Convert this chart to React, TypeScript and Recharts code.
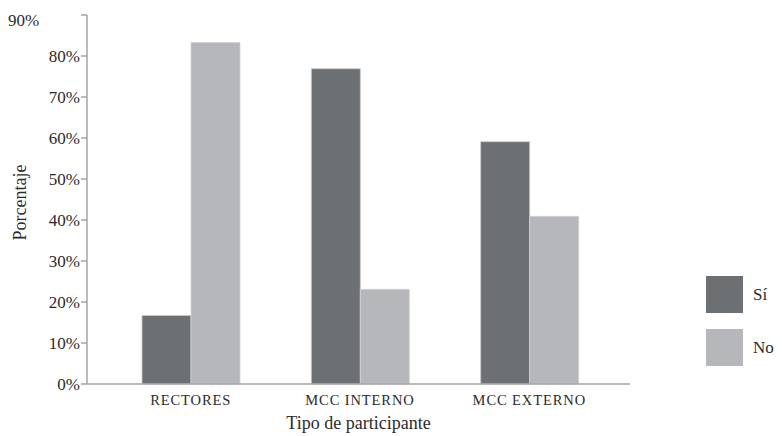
import { Bar, BarChart, Label, Legend, XAxis, YAxis } from "recharts";

const categories = ["RECTORES", "MCC INTERNO", "MCC EXTERNO"];
const siValues = [16.7, 76.9, 59.1];
const noValues = [83.3, 23.1, 40.9];
const seriesNames = ["Sí", "No"];
const yTicks = [0, 10, 20, 30, 40, 50, 60, 70, 80, 90];

const data = categories.map((name, i) => ({
  name,
  si: siValues[i],
  no: noValues[i],
}));

const FONT = "'Liberation Serif', 'Times New Roman', serif";
const INK = "#2b2b2b";
const AXIS = "#a4a5a8";
const SI_COLOR = "#6d7073";
const NO_COLOR = "#b6b7ba";

// top tick label sits flush left in the original, the rest are right-aligned
function YTick({ x, y, payload }: any) {
  if (payload.value === 90) {
    return (
      <text x={8} y={y + 11} fontFamily={FONT} fontSize={17} fill={INK}>
        90%
      </text>
    );
  }
  return (
    <text
      x={x}
      y={y}
      dy={6}
      textAnchor="end"
      fontFamily={FONT}
      fontSize={17}
      fill={INK}
    >
      {payload.value}%
    </text>
  );
}

function XTick({ x, y, payload }: any) {
  return (
    <text
      x={x}
      y={y}
      dy={13}
      textAnchor="middle"
      fontFamily={FONT}
      fontSize={14.5}
      letterSpacing={0.9}
      fill={INK}
    >
      {payload.value}
    </text>
  );
}

function LegendBox({ payload }: any) {
  const items = [...(payload ?? [])].sort(
    (a: any, b: any) => seriesNames.indexOf(a.value) - seriesNames.indexOf(b.value),
  );
  return (
    <div style={{ display: "flex", flexDirection: "column", gap: 16 }}>
      {items.map((p: any) => (
        <div key={p.value} style={{ display: "flex", alignItems: "center" }}>
          <span
            style={{
              width: 37,
              height: 37,
              background: p.color,
              display: "inline-block",
            }}
          />
          <span
            style={{
              marginLeft: 10,
              fontFamily: FONT,
              fontSize: 17,
              color: INK,
            }}
          >
            {p.value}
          </span>
        </div>
      ))}
    </div>
  );
}

export default function App() {
  return (
    <div style={{ position: "absolute", left: 0, top: 0, background: "#fff" }}>
      <BarChart
        width={782}
        height={436}
        data={data}
        margin={{ top: 15, right: 152, bottom: 0, left: 0 }}
        barCategoryGap={36}
        barGap={0}
      >
        <XAxis
          dataKey="name"
          height={52}
          padding={{ left: 19, right: 16 }}
          tickLine={false}
          axisLine={{ stroke: AXIS, strokeWidth: 1.5 }}
          tick={<XTick />}
          interval={0}
        >
          <Label
            value="Tipo de participante"
            position="insideBottom"
            offset={7}
            fontFamily={FONT}
            fontSize={18}
            fill={INK}
          />
        </XAxis>
        <YAxis
          width={87}
          domain={[0, 90]}
          ticks={yTicks}
          interval={0}
          tickSize={6}
          tickMargin={1}
          tickLine={{ stroke: AXIS, strokeWidth: 1.5 }}
          axisLine={{ stroke: AXIS, strokeWidth: 1.5 }}
          tick={<YTick />}
        >
          <Label
            content={({ viewBox }: any) => (
              <text
                transform={`translate(20, ${viewBox.y + viewBox.height / 2 + 3}) rotate(-90)`}
                textAnchor="middle"
                dominantBaseline="central"
                fontFamily={FONT}
                fontSize={18}
                fill={INK}
              >
                Porcentaje
              </text>
            )}
          />
        </YAxis>
        <Legend
          layout="vertical"
          align="center"
          verticalAlign="middle"
          wrapperStyle={{ left: 706, top: 276, width: 76 }}
          content={<LegendBox />}
        />
        <Bar
          dataKey="si"
          name={seriesNames[0]}
          fill={SI_COLOR}
          stroke="#c9cacc"
          strokeWidth={0.8}
          isAnimationActive={false}
        />
        <Bar
          dataKey="no"
          name={seriesNames[1]}
          fill={NO_COLOR}
          stroke="#d2d3d5"
          strokeWidth={0.8}
          isAnimationActive={false}
        />
      </BarChart>
    </div>
  );
}
